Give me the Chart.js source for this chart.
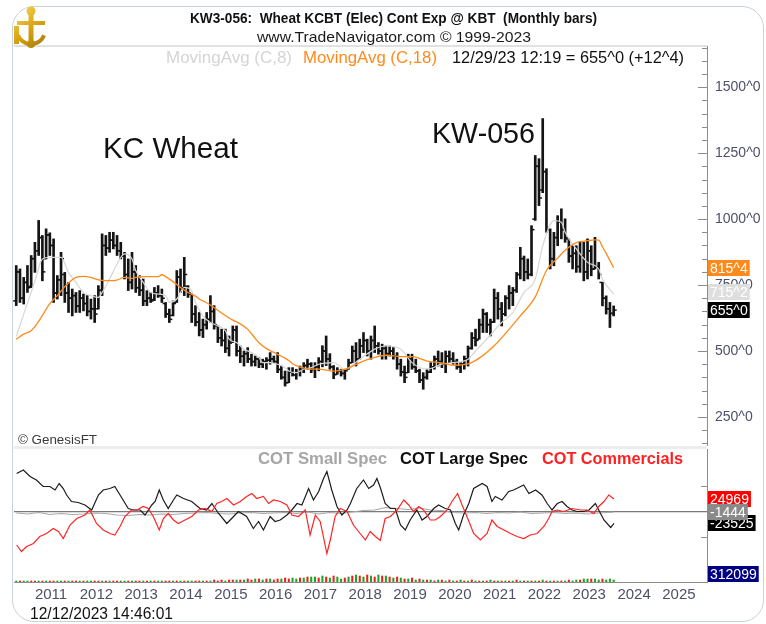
<!DOCTYPE html>
<html>
<head>
<meta charset="utf-8">
<title>KW3-056 Wheat KCBT</title>
<script src="https://cdn.jsdelivr.net/npm/chart.js@4.4.1/dist/chart.umd.min.js"></script>
<style>
  html, body { margin: 0; padding: 0; background: #ffffff; }
  #page { position: relative; width: 766px; height: 624px; overflow: hidden; }
  #frame { position: absolute; left: 12px; top: 6px; width: 750px; height: 614px;
           border: 1px solid #c9d1da; border-radius: 22px; }
  #price { position: absolute; left: 0; top: 0; }
  #cot { position: absolute; left: 0; top: 446px; }
</style>
</head>
<body>
<div id="page">
  <div id="frame"></div>
  <canvas id="price" width="766" height="446"></canvas>
  <canvas id="cot" width="766" height="178"></canvas>
</div>
<script>
// Monthly bars, month index 0 = Jan 2010. First bar = Aug 2010.
var firstMonth = 7;
var opens = [
  690, 800, 700, 760, 745, 850, 880, 930, 850, 940,
  900, 720, 770, 790, 720, 700, 710, 670, 700, 680,
  650, 660, 660, 730, 900, 890, 920, 900, 880, 860,
  790, 760, 800, 740, 730, 690, 700, 695, 720, 710,
  680, 640, 635, 685, 780, 740, 745, 715, 640, 610,
  580, 600, 620, 650, 595, 550, 540, 510, 535, 580,
  500, 480, 490, 470, 460, 470, 450, 460, 465, 470,
  460, 430, 400, 380, 420, 410, 420, 430, 445, 450,
  430, 440, 460, 500, 470, 440, 412, 425, 415, 431,
  456, 500, 470, 520, 540, 500, 540, 520, 500, 510,
  490, 500, 480, 450, 420, 418, 470, 440, 425, 390,
  400, 420, 440, 470, 460, 450, 480, 470, 460, 440,
  450, 470, 510, 550, 545, 600, 640, 600, 610, 700,
  660, 640, 700, 720, 730, 790, 850, 800, 790, 1000,
  1200, 1110, 1180, 960, 850, 930, 990, 960, 925, 860,
  870, 820, 860, 800, 880, 811, 820, 760, 700, 660,
  642.5
];
var highs = [
  824, 811, 779, 824, 862, 912, 995, 938, 963, 948,
  925, 786, 874, 798, 760, 735, 722, 729, 716, 710,
  697, 710, 748, 944, 938, 950, 950, 938, 912, 874,
  849, 874, 824, 786, 773, 729, 722, 741, 748, 735,
  684, 659, 690, 805, 811, 855, 748, 716, 672, 646,
  621, 646, 710, 672, 595, 583, 583, 557, 595, 595,
  519, 500, 513, 488, 481, 475, 469, 475, 494, 481,
  494, 443, 424, 437, 437, 431, 443, 456, 469, 456,
  456, 475, 520, 557, 490, 445, 437, 431, 431, 469,
  519, 532, 545, 570, 545, 557, 595, 532, 526, 519,
  519, 513, 494, 469, 443, 488, 488, 469, 431, 418,
  431, 456, 481, 500, 494, 500, 500, 494, 469, 456,
  481, 519, 570, 583, 621, 659, 646, 621, 735, 722,
  684, 710, 748, 741, 798, 893, 860, 849, 975, 1241,
  1229, 1381, 1191, 963, 950, 1013, 1039, 1001, 925, 899,
  899, 912, 912, 925, 899, 931, 836, 760, 709, 684,
  671
];
var lows = [
  672, 684, 678, 722, 740, 798, 862, 766, 849, 862,
  684, 697, 710, 684, 646, 633, 646, 646, 652, 633,
  621, 608, 659, 710, 862, 874, 887, 862, 849, 773,
  729, 735, 722, 710, 672, 672, 684, 691, 703, 684,
  627, 608, 633, 684, 722, 710, 703, 608, 595, 557,
  551, 583, 608, 583, 532, 519, 494, 481, 532, 481,
  456, 443, 456, 443, 443, 437, 437, 431, 450, 456,
  418, 393, 367, 380, 405, 393, 405, 418, 431, 418,
  399, 425, 440, 445, 431, 395, 412, 405, 393, 431,
  456, 443, 469, 494, 481, 469, 494, 488, 469, 469,
  481, 469, 431, 405, 380, 418, 431, 418, 380, 355,
  393, 418, 431, 443, 437, 418, 456, 450, 431, 418,
  431, 443, 507, 519, 545, 570, 570, 557, 608, 621,
  595, 633, 659, 672, 722, 773, 766, 773, 785, 995,
  1051, 1100, 950, 811, 823, 899, 925, 912, 836, 811,
  798, 798, 766, 773, 785, 811, 773, 671, 640, 589,
  633
];
var closes = [
  800, 700, 760, 740, 850, 880, 930, 800, 940, 900,
  720, 770, 850, 720, 700, 710, 670, 700, 680, 650,
  660, 640, 730, 900, 890, 920, 900, 880, 860, 790,
  760, 800, 740, 730, 690, 700, 690, 720, 710, 700,
  640, 620, 680, 780, 740, 790, 720, 640, 610, 580,
  600, 620, 650, 600, 550, 540, 510, 530, 580, 500,
  480, 490, 470, 460, 470, 450, 460, 465, 470, 460,
  430, 400, 380, 420, 410, 420, 430, 445, 450, 430,
  440, 460, 500, 470, 440, 410, 425, 415, 425, 455,
  500, 470, 520, 540, 500, 540, 520, 500, 510, 490,
  500, 480, 450, 420, 400, 470, 440, 425, 390, 400,
  420, 440, 470, 460, 450, 480, 470, 460, 440, 450,
  470, 510, 550, 540, 600, 640, 600, 610, 700, 660,
  640, 700, 720, 730, 790, 850, 800, 790, 960, 1200,
  1080, 1180, 960, 850, 930, 990, 960, 930, 860, 870,
  820, 860, 800, 880, 810, 820, 790, 700, 660, 642.5,
  655
];
var lastStamp = '12/29/23 12:19';

// moving averages (month index, price)
var ma8Months = [7, 9, 12, 14, 16, 19, 21, 23, 25, 27,
  29, 30, 32, 34, 36, 38, 39, 41, 43, 45,
  47, 48, 50, 52, 54, 55, 57, 59, 61, 63,
  64, 66, 68, 70, 72, 73, 75, 77, 79, 80,
  82, 84, 86, 88, 92, 95, 99, 103, 106, 110,
  113, 117, 121, 124, 128, 130, 133, 137, 140, 143,
  146, 148, 151, 153, 154, 157, 160, 163, 164, 167];
var ma8Values = [555, 640, 765, 849, 855, 855, 798, 760, 722, 710,
  703, 722, 773, 830, 868, 849, 805, 760, 722, 716,
  710, 684, 697, 741, 729, 684, 633, 608, 595, 577,
  545, 532, 507, 494, 475, 456, 456, 450, 437, 424,
  418, 431, 437, 450, 456, 431, 469, 507, 519, 507,
  456, 431, 450, 456, 469, 500, 545, 608, 646, 722,
  773, 899, 994, 988, 950, 887, 836, 811, 773, 715.25];

var ma18Months = [7, 9, 11, 13, 14, 16, 18, 20, 22, 23,
  25, 27, 29, 31, 32, 34, 36, 38, 39, 41,
  43, 45, 46, 47, 49, 51, 53, 55, 56, 58,
  60, 62, 64, 65, 67, 69, 71, 72, 74, 76,
  78, 80, 81, 83, 85, 87, 88, 92, 95, 99,
  103, 106, 110, 113, 117, 121, 124, 128, 131, 135,
  138, 142, 146, 149, 152, 154, 157, 160, 162, 163,
  164, 165, 166, 167];
var ma18Values = [545, 564, 577, 612, 635, 680, 710, 744, 770, 779,
  783, 779, 770, 767, 767, 769, 779, 775, 779, 782,
  782, 782, 789, 782, 763, 741, 722, 708, 697, 683,
  665, 644, 625, 617, 603, 582, 548, 531, 509, 495,
  480, 464, 452, 439, 433, 431, 431, 424, 430, 456,
  476, 484, 479, 479, 462, 455, 446, 451, 473, 520,
  566, 633, 705, 805, 852, 882, 911, 918, 921, 920,
  895, 870, 843, 815.5];

var priceTicks = [250, 500, 750, 1000, 1250, 1500];
var yearTicks = [12, 24, 36, 48, 60, 72, 84, 96, 108, 120, 132, 144, 156, 168, 180];
var yearLabels = ['2011', '2012', '2013', '2014', '2015', '2016', '2017', '2018',
  '2019', '2020', '2021', '2022', '2023', '2024', '2025'];

// COT net positions, thousands of contracts
var largeMonths = [7.1, 8.9, 10.7, 12.4, 14.2, 16, 17.4, 18.5, 19.6, 20.5,
  21.8, 23.6, 25.4, 27.2, 29, 30.3, 32.1, 33.4, 34.8, 37,
  38.4, 40.2, 41.5, 43.3, 44.2, 45.3, 46.4, 47.7, 49.1, 50,
  51.8, 54, 56.2, 58, 59.4, 61.2, 63.4, 65.2, 66.5, 68.7,
  70.5, 71.9, 73.2, 75, 76.3, 77.7, 79.5, 80.8, 82.2, 83.5,
  85.3, 86.6, 88, 89.3, 90.2, 91.5, 92.9, 94.2, 95.6, 96.5,
  98.2, 100, 101.4, 102.7, 103.6, 104.5, 105.8, 107.2, 108.5, 109.9,
  111.2, 112.5, 114.3, 115.7, 117, 118.8, 120.1, 121.9, 123.3, 124.6,
  125.5, 126.8, 128.2, 129.5, 131.8, 133.1, 134.4, 135.3, 137.1, 138.9,
  140.2, 142.9, 144.3, 146.1, 147.8, 149.2, 150.5, 151.9, 153.2, 154.5,
  155.9, 157.2, 159, 160.4, 162.1, 163, 164.4, 166.2, 167.1];
var largeValues = [76, 83, 70, 63, 50, 50, 43, 56, 46, 33,
  20, 18, 13, 3, 33, 43, 46, 50, 33, 6,
  3, 3, -7, 13, 20, 43, 23, 6, 23, 33,
  26, 20, 6, 3, 16, -4, -24, -10, 0, -10,
  -34, -20, -37, -10, -20, -17, -7, 3, 16, 13,
  46, 23, 40, 66, 80, 43, 10, -7, 3, 16,
  46, 63, 46, 53, 66, 48, 16, 6, 6, -27,
  -37, -17, 3, -17, -10, 6, 13, 6, 3, -24,
  -37, -7, 16, 46, 56, 50, 20, 30, 23, 40,
  43, 53, 36, 43, 33, 16, 3, 16, 20, 10,
  3, 0, 0, 3, 16, 3, -17, -32, -23.525];

var commMonths = [7.1, 8.4, 9.8, 11.6, 13.3, 15.1, 16.9, 18.3, 19.6, 21.4,
  23.2, 25.4, 26.7, 28.5, 30.3, 32.1, 33.4, 34.8, 36.1, 37.9,
  39.3, 41, 42.4, 43.7, 45.3, 46.4, 47.7, 49.1, 50.4, 52.2,
  54, 55.8, 57.6, 59.4, 60.7, 62, 63.4, 65.2, 67, 68.7,
  70.1, 71.4, 73.2, 74.6, 75.9, 77.7, 79.5, 80.8, 82.6, 84.4,
  85.7, 87.1, 88.4, 90.2, 91.1, 92.4, 93.8, 95.6, 97.3, 99.1,
  100.5, 101.8, 103.2, 104.5, 105.8, 107.2, 109, 110.8, 112.1, 113.4,
  114.8, 116.1, 117.9, 119.2, 120.6, 122.4, 123.7, 125.2, 126.4, 127.7,
  129.5, 131.3, 133.1, 134.4, 135.8, 137.6, 139.4, 141.1, 142.9, 144.7,
  146.5, 148.3, 149.6, 150.5, 151.9, 153.6, 155.9, 158.1, 159.9, 161.7,
  163, 164.4, 165.7, 167.1];
var commValues = [-67, -80, -70, -64, -50, -44, -34, -40, -54, -27,
  -14, -7, 3, -24, -37, -44, -47, -30, -10, 3,
  3, 10, 6, -10, -37, -14, -4, -17, -24, -17,
  -10, 3, 6, 0, 16, 20, 26, 13, 20, 30,
  36, 26, 30, 16, 23, 20, 13, -7, -10, 3,
  -47, -7, -20, -84, -57, -10, 6, 0, -27, -44,
  -57, -40, -50, -58, -14, -10, 3, 23, 13, 0,
  10, 3, -17, -17, -10, 3, 20, 36, 13, -10,
  -44, -57, -44, -17, -30, -37, -44, -50, -54, -47,
  -44, -30, -14, 0, 3, 0, 6, 3, 3, -4,
  10, 20, 33, 24.969];

var smallMonths = [7, 10, 13, 16, 19, 22, 25, 28, 31, 34,
  37, 40, 43, 46, 49, 52, 55, 58, 61, 64,
  67, 70, 73, 76, 79, 82, 85, 88, 91, 94,
  97, 100, 103, 106, 109, 112, 115, 118, 121, 124,
  127, 130, 133, 136, 139, 142, 145, 148, 151, 154,
  157, 160, 163, 165, 167];
var smallValues = [-3, -5, -2, -6, -4, -6, -5, -3, -4, -7,
  -8, -6, -7, -5, -6, -4, -3, -2, -4, -5,
  -3, -2, -4, -3, -2, -4, -1, -5, -2, -4,
  -1, 2, 3, 8, 6, 4, 7, 3, 2, -2,
  -3, -2, -4, -2, -3, -1, -4, -3, -2, -4,
  -3, -5, -3, -2, -1.444];

// small histogram along the bottom of the COT pane (green up, red down)
var histFirstMonth = 7;
var histValues = [
  1, -1, 1, 1, -1, -1, 1, -1, 1, -1,
  -1, 1, 1, -1, 1, -1, -1, 1, -1, 1,
  1, -1, -1, 1, -1, 1, -1, -1, 1, 1,
  -1, 1, -1, -1, 1, -1, 1, -1, 1, 1,
  -1, -1, 1, -1, 1, -1, 1, 1, -1, -1,
  1, -1, 1, -2, -1, -2, 1, -2, -2, 2,
  -2, 2, -3, -2, 3, -3, 2, -3, 3, -2,
  -3, 3, -4, -3, 4, 3, -4, 4, -5, 5,
  5, -4, 6, -5, 4, -6, 5, 3, -4, 5,
  -6, 7, -6, 5, -7, 6, -5, 7, -6, 6,
  -5, 4, -5, 4, -3, 3, -4, 2, -3, 2,
  -2, 2, -1, 2, -2, 1, -2, 1, -1, 2,
  -1, 1, -2, 1, -1, 1, -1, 2, -1, 1,
  -1, 1, -1, 1, -2, 1, -1, 1, -1, 1,
  -1, 2, -1, 1, -1, 1, -1, 1, -2, 1,
  2, -2, 3, 3, -3, 3, 2, -3, 2, 3,
  2
];
var openInterest = 312099;

var FONT = '"Liberation Sans", Arial, sans-serif';
var X_MIN = 6.4, X_MAX = 192;

function pts(xs, ys) {
  return xs.map(function (x, i) { return { x: x, y: ys[i] }; });
}

function fmtQuote(v) {
  var whole = Math.floor(v);
  return whole + '^' + Math.round((v - whole) * 8);
}

// keep the plot area where it is: no extra room for edge tick labels
function noEdgePadding(s) {
  s.paddingTop = 0;
  s.paddingBottom = 0;
  s.paddingLeft = 0;
  s.paddingRight = 0;
}

// draw text squeezed/stretched to a given width (the source uses a narrow face)
function fitText(ctx, str, left, baseline, width, font, color) {
  ctx.save();
  ctx.font = font;
  ctx.fillStyle = color;
  ctx.textAlign = 'left';
  ctx.textBaseline = 'alphabetic';
  var w = ctx.measureText(str).width;
  ctx.translate(left, baseline);
  ctx.scale(width / w, 1);
  ctx.fillText(str, 0, 0);
  ctx.restore();
}

function valueBox(ctx, text, x, yMid, bg, fg) {
  ctx.save();
  ctx.font = '14px ' + FONT;
  var w = ctx.measureText(text).width + 4;
  ctx.fillStyle = bg;
  ctx.fillRect(x, Math.round(yMid - 8), w, 16);
  ctx.fillStyle = fg;
  ctx.textAlign = 'left';
  ctx.textBaseline = 'middle';
  ctx.fillText(text, x + 2, Math.round(yMid) + 1);
  ctx.restore();
}

function drawLogo(ctx) {
  ctx.save();
  var g = ctx.createLinearGradient(14, 6, 48, 50);
  g.addColorStop(0, '#f9dc5c');
  g.addColorStop(0.5, '#d8a414');
  g.addColorStop(1, '#9c7204');
  ctx.fillStyle = g;
  ctx.strokeStyle = g;
  ctx.beginPath(); ctx.arc(31, 11, 4.5, 0, Math.PI * 2); ctx.fill();
  ctx.fillRect(28.5, 14, 5, 30);
  ctx.fillRect(17, 21, 28, 4);
  ctx.fillRect(14, 26, 5, 18);
  ctx.lineWidth = 4;
  ctx.beginPath(); ctx.arc(31, 30, 14, 0.12 * Math.PI, 0.88 * Math.PI); ctx.stroke();
  ctx.beginPath(); ctx.arc(31, 44, 4, 0, Math.PI * 2); ctx.fill();
  ctx.restore();
}

var pricePanel = {
  id: 'pricePanel',
  afterDatasetDraw: function (chart, args) {
    if (args.index !== 0) return;
    // open (left) and close (right) ticks of each monthly bar
    var xs = chart.scales.x, ys = chart.scales.y, ctx = chart.ctx;
    ctx.save();
    ctx.fillStyle = '#141414';
    closes.forEach(function (c, i) {
      var x = xs.getPixelForValue(firstMonth + i);
      ctx.fillRect(x - 3, ys.getPixelForValue(opens[i]) - 0.75, 3, 1.5);
      ctx.fillRect(x, ys.getPixelForValue(c) - 0.75, 3, 1.5);
    });
    ctx.restore();
  },
  afterDraw: function (chart) {
    var ctx = chart.ctx, ys = chart.scales.y, area = chart.chartArea;
    var n = closes.length;
    var chg = closes[n - 1] - closes[n - 2];

    ctx.save();
    ctx.fillStyle = '#c4c4c4';
    ctx.fillRect(area.left, area.top - 0.5, area.right - area.left, 1);
    // inner tick marks on the price axis
    ctx.strokeStyle = '#8c8c8c';
    ctx.lineWidth = 1;
    for (var v = 150; v <= 1650; v += 50) {
      var y = Math.round(ys.getPixelForValue(v)) + 0.5;
      var len = v % 250 === 0 ? 9 : 5;
      ctx.beginPath(); ctx.moveTo(area.right - len, y); ctx.lineTo(area.right, y); ctx.stroke();
    }
    ctx.restore();

    drawLogo(ctx);
    fitText(ctx, 'KW3-056:  Wheat KCBT (Elec) Cont Exp @ KBT  (Monthly bars)', 190, 23, 407,
      'bold 14px ' + FONT, '#111111');
    fitText(ctx, 'www.TradeNavigator.com \u00a9 1999-2023', 257, 42, 274, '15px ' + FONT, '#1a1a1a');
    fitText(ctx, 'MovingAvg (C,8)', 166, 63, 126, '16px ' + FONT, '#d4d4d4');
    fitText(ctx, 'MovingAvg (C,18)', 303, 63, 134, '16px ' + FONT, '#ff8a1c');
    fitText(ctx, lastStamp + ' = ' + fmtQuote(closes[n - 1]) + ' (' + (chg >= 0 ? '+' : '-') +
      fmtQuote(Math.abs(chg)) + ')', 452, 63, 232, '16px ' + FONT, '#111111');

    fitText(ctx, 'KC Wheat', 103, 158, 135, '29px ' + FONT, '#111111');
    fitText(ctx, 'KW-056', 432, 143, 103, '29px ' + FONT, '#111111');
    fitText(ctx, '\u00a9 GenesisFT', 18, 444, 79, '13px ' + FONT, '#3a3a3a');

    var x0 = area.right + 1;
    valueBox(ctx, fmtQuote(ma18Values[ma18Values.length - 1]), x0,
      ys.getPixelForValue(ma18Values[ma18Values.length - 1]), '#ff8a1c', '#ffffff');
    valueBox(ctx, fmtQuote(ma8Values[ma8Values.length - 1]), x0,
      ys.getPixelForValue(ma8Values[ma8Values.length - 1]) - 2, '#dedede', '#ffffff');
    valueBox(ctx, fmtQuote(closes[n - 1]), x0, ys.getPixelForValue(closes[n - 1]), '#000000', '#ffffff');
  }
};

var cotPanel = {
  id: 'cotPanel',
  beforeDraw: function (chart) {
    var ctx = chart.ctx, area = chart.chartArea;
    ctx.save();
    ctx.fillStyle = '#ececec';
    ctx.fillRect(area.left, 0, area.right - area.left, area.top);
    ctx.restore();
  },
  afterDraw: function (chart) {
    var ctx = chart.ctx, ys = chart.scales.y, area = chart.chartArea;
    ctx.save();
    ctx.strokeStyle = '#8c8c8c';
    [-50, 50].forEach(function (v) {
      var y = Math.round(ys.getPixelForValue(v)) + 0.5;
      ctx.beginPath(); ctx.moveTo(area.right - 6, y); ctx.lineTo(area.right, y); ctx.stroke();
    });
    ctx.restore();

    fitText(ctx, 'COT Small Spec', 258, 18, 129, 'bold 16px ' + FONT, '#a6a6a6');
    fitText(ctx, 'COT Large Spec', 400, 18, 128, 'bold 16px ' + FONT, '#111111');
    fitText(ctx, 'COT Commercials', 542, 18, 141, 'bold 16px ' + FONT, '#ff2020');
    fitText(ctx, '12/12/2023 14:46:01', 30, 173, 143, '16px ' + FONT, '#111111');

    var x0 = area.right + 1;
    var lc = commValues[commValues.length - 1];
    var ll = largeValues[largeValues.length - 1];
    var ls = smallValues[smallValues.length - 1];
    valueBox(ctx, String(Math.round(lc * 1000)), x0, ys.getPixelForValue(lc), '#ff0000', '#ffffff');
    valueBox(ctx, String(Math.round(ll * 1000)), x0, ys.getPixelForValue(ll), '#000000', '#ffffff');
    valueBox(ctx, String(Math.round(ls * 1000)), x0, ys.getPixelForValue(ls), '#8a8a8a', '#ffffff');
    valueBox(ctx, String(openInterest), x0, area.bottom - 8, '#000080', '#ffffff');
  }
};

new Chart(document.getElementById('price'), {
  type: 'bar',
  data: {
    datasets: [
      {
        type: 'bar',
        label: 'KW3-056',
        data: closes.map(function (c, i) { return { x: firstMonth + i, y: [lows[i], highs[i]] }; }),
        backgroundColor: '#141414',
        barThickness: 2,
        order: 3
      },
      {
        type: 'line',
        label: 'MovingAvg (C,8)',
        data: pts(ma8Months, ma8Values),
        borderColor: '#d6d6d6',
        borderWidth: 1.2,
        pointRadius: 0,
        cubicInterpolationMode: 'monotone',
        order: 2
      },
      {
        type: 'line',
        label: 'MovingAvg (C,18)',
        data: pts(ma18Months, ma18Values),
        borderColor: '#ff8a1c',
        borderWidth: 1.3,
        pointRadius: 0,
        cubicInterpolationMode: 'monotone',
        order: 1
      }
    ]
  },
  options: {
    responsive: false,
    animation: false,
    layout: { padding: { left: 14, top: 46, right: 0, bottom: 0 } },
    plugins: { legend: { display: false }, tooltip: { enabled: false } },
    scales: {
      x: { type: 'linear', min: X_MIN, max: X_MAX, offset: false, display: false },
      y: {
        type: 'linear',
        position: 'right',
        min: 140,
        max: 1656,
        grid: { display: false, drawTicks: false },
        border: { display: true, color: '#8c8c8c' },
        afterBuildTicks: function (s) { s.ticks = priceTicks.map(function (v) { return { value: v }; }); },
        afterFit: function (s) { s.width = 59; noEdgePadding(s); },
        ticks: {
          padding: 8,
          color: '#4e5068',
          font: { family: FONT, size: 14 },
          callback: function (v) { return v + '^0'; }
        }
      }
    }
  },
  plugins: [pricePanel]
});

new Chart(document.getElementById('cot'), {
  type: 'line',
  data: {
    datasets: [
      {
        label: 'COT Small Spec',
        data: pts(smallMonths, smallValues),
        borderColor: '#a8a8a8',
        borderWidth: 1.2,
        pointRadius: 0,
        yAxisID: 'y',
        order: 3
      },
      {
        label: 'COT Large Spec',
        data: pts(largeMonths, largeValues),
        borderColor: '#1c1c1c',
        borderWidth: 1.2,
        pointRadius: 0,
        yAxisID: 'y',
        order: 2
      },
      {
        label: 'COT Commercials',
        data: pts(commMonths, commValues),
        borderColor: '#ff2424',
        borderWidth: 1.2,
        pointRadius: 0,
        yAxisID: 'y',
        order: 1
      },
      {
        type: 'bar',
        label: 'change',
        data: histValues.map(function (v, i) { return { x: histFirstMonth + i, y: Math.abs(v) }; }),
        backgroundColor: histValues.map(function (v) { return v >= 0 ? '#1fa51f' : '#ee2020'; }),
        barThickness: 1.4,
        yAxisID: 'yh',
        order: 4
      }
    ]
  },
  options: {
    responsive: false,
    animation: false,
    layout: { padding: { left: 14, top: 3, right: 0, bottom: 0 } },
    plugins: { legend: { display: false }, tooltip: { enabled: false } },
    scales: {
      x: {
        type: 'linear',
        position: 'bottom',
        min: X_MIN,
        max: X_MAX,
        offset: false,
        grid: { display: false, drawTicks: false },
        border: { display: true, color: '#8c8c8c' },
        afterBuildTicks: function (s) { s.ticks = yearTicks.map(function (v) { return { value: v }; }); },
        afterFit: function (s) { s.height = 42; noEdgePadding(s); },
        ticks: {
          align: 'start',
          padding: 4,
          maxRotation: 0,
          autoSkip: false,
          color: '#4e5068',
          font: { family: FONT, size: 15 },
          callback: function (v) { return yearLabels[yearTicks.indexOf(v)]; }
        }
      },
      y: {
        type: 'linear',
        position: 'right',
        min: -141,
        max: 125,
        grid: {
          drawTicks: false,
          lineWidth: 1.3,
          color: function (c) { return c.tick && c.tick.value === 0 ? '#7a7a7a' : 'rgba(0,0,0,0)'; }
        },
        border: { display: true, color: '#8c8c8c' },
        afterBuildTicks: function (s) { s.ticks = [{ value: -50 }, { value: 0 }, { value: 50 }]; },
        afterFit: function (s) { s.width = 59; noEdgePadding(s); },
        ticks: { display: false }
      },
      yh: { type: 'linear', display: false, min: 0, max: 133 }
    }
  },
  plugins: [cotPanel]
});
</script>
</body>
</html>
